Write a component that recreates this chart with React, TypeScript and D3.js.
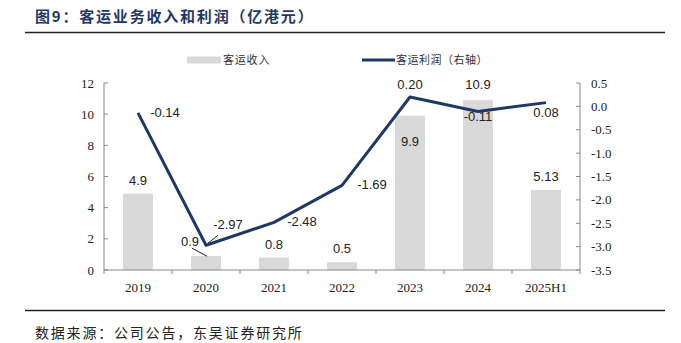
import React from "react";
import * as d3 from "d3";

const categories = ["2019", "2020", "2021", "2022", "2023", "2024", "2025H1"];
const revenue = [4.9, 0.9, 0.8, 0.5, 9.9, 10.9, 5.13];
const revenueLabels = ["4.9", "0.9", "0.8", "0.5", "9.9", "10.9", "5.13"];
const profit = [-0.14, -2.97, -2.48, -1.69, 0.2, -0.11, 0.08];
const profitLabels = ["-0.14", "-2.97", "-2.48", "-1.69", "0.20", "-0.11", "0.08"];
const leftTicks = [0, 2, 4, 6, 8, 10, 12];
const rightTicks = [0.5, 0, -0.5, -1, -1.5, -2, -2.5, -3, -3.5];

const W = 681;
const H = 343;
const plotLeft = 104;
const plotRight = 580;
const plotTop = 83;
const plotBottom = 270;
const NAVY = "#1F3864";
const BAR = "#D9D9D9";

// label offsets (dx, dy) relative to point
const profitOffsets: [number, number][] = [
  [27, 4],
  [22, -16],
  [28, 4],
  [30, 4],
  [0, -8],
  [0, 9],
  [0, 14],
];
const revenueOffsets: [number, number][] = [
  [0, -9],
  [-16, -10],
  [0, -9],
  [0, -9],
  [0, 30],
  [0, -11],
  [0, -9],
];

export default function App() {
  const x = d3.scaleBand<string>().domain(categories).range([plotLeft, plotRight]).paddingInner(0.56).paddingOuter(0.28);
  const xc = d3.scaleBand<string>().domain(categories).range([plotLeft, plotRight]);
  const yL = d3.scaleLinear().domain([0, 12]).range([plotBottom, plotTop]);
  const yR = d3.scaleLinear().domain([-3.5, 0.5]).range([plotBottom, plotTop]);
  const cx = (c: string) => (xc(c) as number) + xc.bandwidth() / 2;

  const line = d3
    .line<number>()
    .x((_, i) => cx(categories[i]))
    .y((d) => yR(d));

  const boundaries = categories.map((c) => xc(c) as number).concat([plotRight]);

  const serif = "'Liberation Serif', 'Times New Roman', serif";
  const sans = "'Liberation Sans', Arial, sans-serif";
  const cjk = "'Noto Sans CJK SC', sans-serif";

  return (
    <svg width={W} height={H} style={{ position: "absolute", left: 0, top: 0, background: "#fff" }}>
      {/* title */}
      <text x={35} y={22} fontFamily={cjk} fontWeight="bold" fontSize={15} letterSpacing={1.8} fill={NAVY}>
        图9：客运业务收入和利润（亿港元）
      </text>
      <line x1={25} x2={665} y1={32.5} y2={32.5} stroke="#222" strokeWidth={1.5} />
      <line x1={25} x2={665} y1={310.5} y2={310.5} stroke="#222" strokeWidth={1.5} />
      <text x={35} y={338} fontFamily={cjk} fontSize={14} letterSpacing={1.8} fill="#222">
        数据来源：公司公告，东吴证券研究所
      </text>

      {/* legend */}
      <rect x={187} y={56.5} width={34} height={7} fill={BAR} />
      <text x={223} y={64} fontFamily={cjk} fontSize={11} letterSpacing={0.8} fill="#333">客运收入</text>
      <line x1={362} x2={395} y1={60} y2={60} stroke={NAVY} strokeWidth={3} />
      <text x={396} y={64} fontFamily={cjk} fontSize={11} letterSpacing={0.5} fill="#333">客运利润（右轴）</text>

      {/* bars */}
      {revenue.map((v, i) => (
        <rect
          key={categories[i]}
          x={x(categories[i])}
          y={yL(v)}
          width={x.bandwidth()}
          height={plotBottom - yL(v)}
          fill={BAR}
        />
      ))}

      {/* axes */}
      <line x1={plotLeft} x2={plotLeft} y1={plotTop} y2={plotBottom} stroke="#888" />
      <line x1={plotRight} x2={plotRight} y1={plotTop} y2={plotBottom} stroke="#888" />
      <line x1={plotLeft} x2={plotRight} y1={plotBottom} y2={plotBottom} stroke="#888" />
      {leftTicks.map((t) => (
        <g key={"l" + t}>
          <line x1={plotLeft} x2={plotLeft + 4} y1={yL(t)} y2={yL(t)} stroke="#888" />
          <text x={plotLeft - 10} y={yL(t) + 4.5} textAnchor="end" fontFamily={serif} fontSize={13} fill="#222">
            {t}
          </text>
        </g>
      ))}
      {rightTicks.map((t) => (
        <g key={"r" + t}>
          <line x1={plotRight - 4} x2={plotRight} y1={yR(t)} y2={yR(t)} stroke="#888" />
          <text x={plotRight + 11} y={yR(t) + 4.5} fontFamily={serif} fontSize={13} fill="#222">
            {t === 0 ? "0.0" : d3.format(".1f")(t).replace("−", "-")}
          </text>
        </g>
      ))}
      {boundaries.map((b, i) => (
        <line key={"b" + i} x1={b} x2={b} y1={plotBottom} y2={plotBottom + 4} stroke="#888" />
      ))}
      {categories.map((c) => (
        <text key={"x" + c} x={cx(c)} y={292} textAnchor="middle" fontFamily={serif} fontSize={13} fill="#222">
          {c}
        </text>
      ))}

      {/* line */}
      <path d={line(profit) as string} fill="none" stroke={NAVY} strokeWidth={3} strokeLinejoin="round" />

      {/* leader lines for 2020 */}
      <line x1={cx("2020") + 1} y1={yR(profit[1]) + 11} x2={cx("2020") - 14} y2={yR(profit[1]) + 3} stroke="#222" strokeWidth={1} />
      <line x1={cx("2020") + 2} y1={yR(profit[1]) - 2} x2={cx("2020") + 12} y2={yR(profit[1]) - 10} stroke="#222" strokeWidth={1} />

      {/* bar labels */}
      {revenue.map((v, i) => (
        <text
          key={"rv" + i}
          x={cx(categories[i]) + revenueOffsets[i][0]}
          y={yL(v) + revenueOffsets[i][1]}
          textAnchor="middle"
          fontFamily={sans}
          fontSize={13}
          fill="#222"
        >
          {revenueLabels[i]}
        </text>
      ))}

      {/* profit labels */}
      {profit.map((v, i) => (
        <text
          key={"pv" + i}
          x={cx(categories[i]) + profitOffsets[i][0]}
          y={yR(v) + profitOffsets[i][1]}
          textAnchor="middle"
          fontFamily={sans}
          fontSize={13}
          fill="#222"
        >
          {profitLabels[i]}
        </text>
      ))}
    </svg>
  );
}
